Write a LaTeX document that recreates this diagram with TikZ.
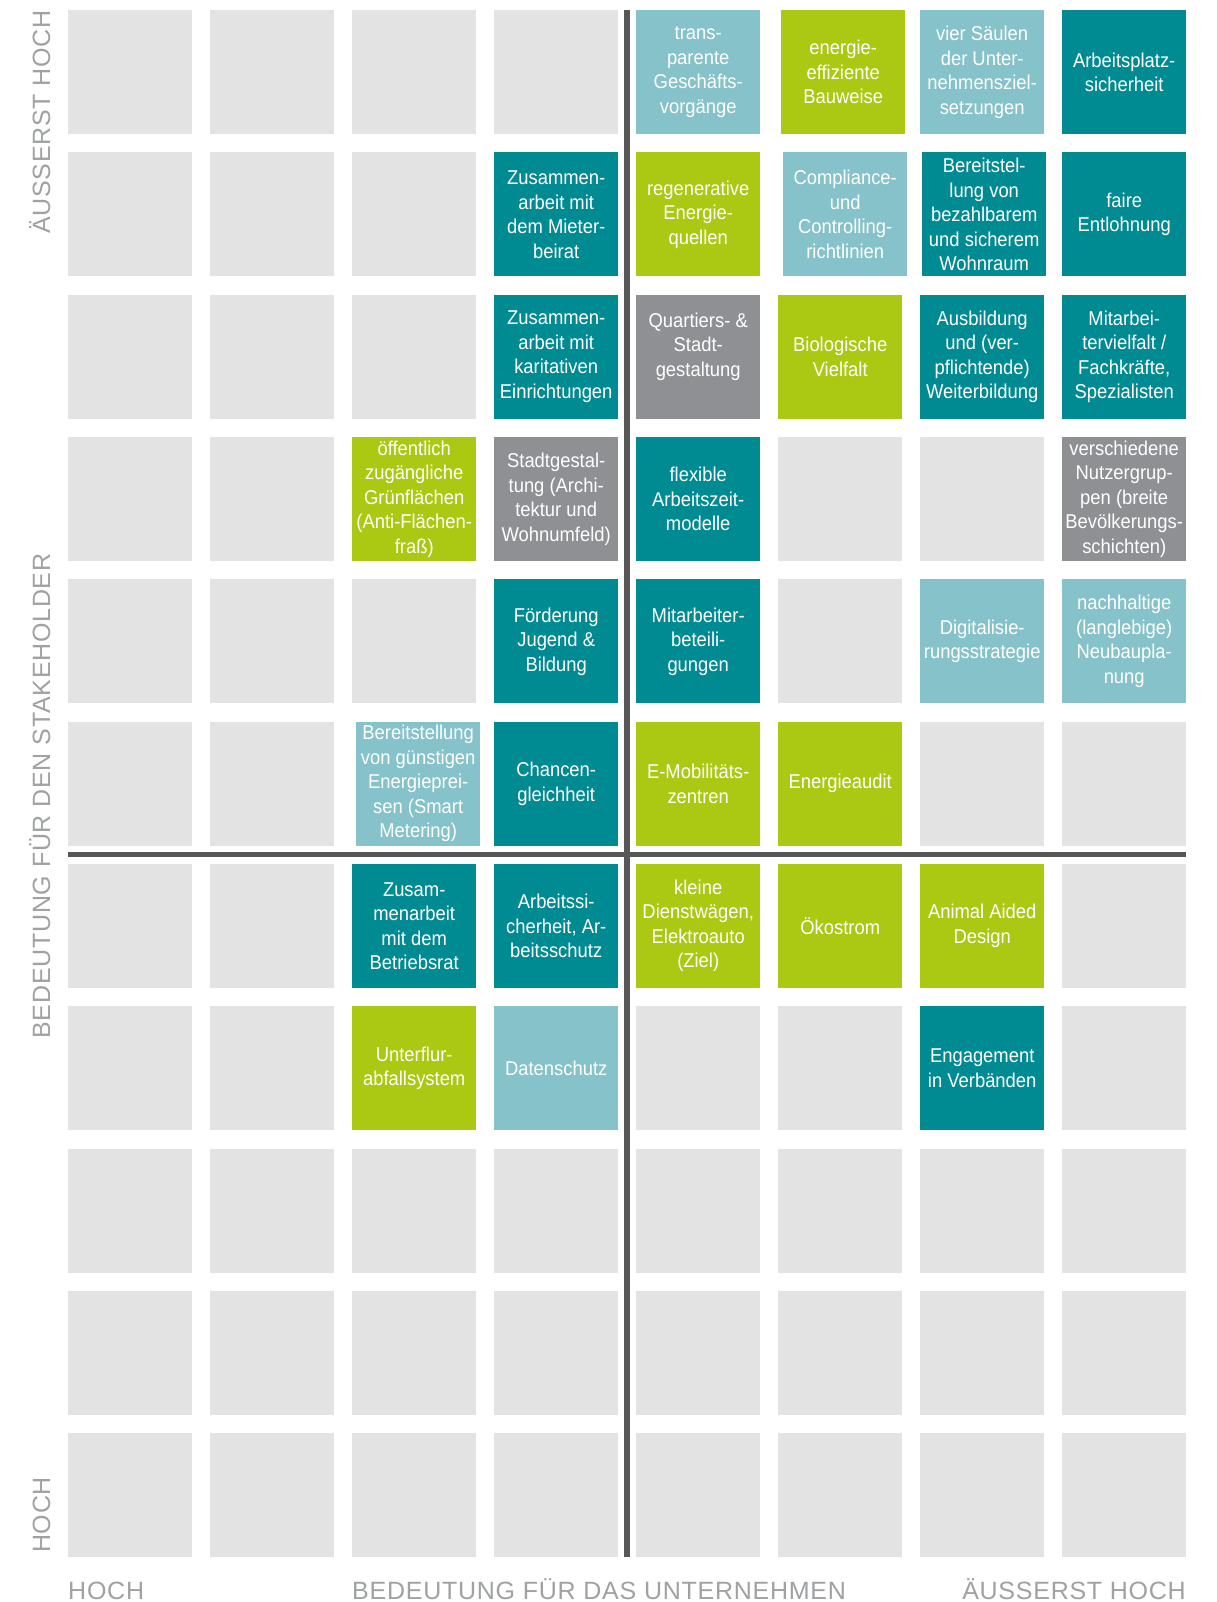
\documentclass[tikz,border=0pt]{standalone}
\usepackage{fontspec}
\newfontfamily\cellfont[FakeStretch=0.92]{Liberation Sans}
\newfontfamily\axisfont[LetterSpace=3]{Liberation Sans}
\definecolor{cellgray}{HTML}{E3E3E3}
\definecolor{teal}{HTML}{008A91}
\definecolor{lteal}{HTML}{86C2C9}
\definecolor{lime}{HTML}{ABC813}
\definecolor{midgray}{HTML}{8E9093}
\definecolor{axisline}{HTML}{575757}
\definecolor{axistext}{HTML}{9FA1A3}
% one square of the matrix: [x offset]{row}{column}{style}{text}
\newcommand\mxcell[5][0]{%
  \node[cellbox,#4] (m-#2-#3) at ({68+142*(#3-1)+#1},{10+142.3*(#2-1)}) {#5};}
\begin{document}
\begin{tikzpicture}[x=1pt,y=-1pt,
  celltext/.style={inner sep=0pt, align=center, text=white,
    font=\cellfont\fontsize{20}{24.5}\selectfont},
  cellbox/.style={celltext, rectangle, minimum width=124pt, minimum height=124pt,
    anchor=north west},
  blank/.style={fill=cellgray},
  dark/.style={fill=teal},
  light/.style={fill=lteal},
  green/.style={fill=lime},
  grey/.style={fill=midgray},
  axislabel/.style={inner sep=0pt, text=axistext, font=\axisfont\fontsize{25}{30}\selectfont},
  divider/.style={draw=axisline, line width=5.5pt}]
\fill[white] (0,0) rectangle (1216,1602);
\useasboundingbox (0,0) rectangle (1216,1602);

% row 1
\foreach \c in {1,...,4} {\mxcell{1}{\c}{blank}{}}
\mxcell{1}{5}{light}{trans-\\parente\\Geschäfts-\\vorgänge}
\mxcell[3]{1}{6}{green}{energie-\\effiziente\\Bauweise}
\mxcell{1}{7}{light}{vier Säulen\\der Unter-\\nehmensziel-\\setzungen}
\mxcell{1}{8}{dark}{Arbeitsplatz-\\sicherheit}
% row 2
\foreach \c in {1,...,3} {\mxcell{2}{\c}{blank}{}}
\mxcell{2}{4}{dark}{Zusammen-\\arbeit mit\\dem Mieter-\\beirat}
\mxcell{2}{5}{green}{regenerative\\Energie-\\quellen}
\mxcell[5]{2}{6}{light}{Compliance-\\und\\Controlling-\\richtlinien}
\mxcell[2]{2}{7}{dark}{Bereitstel-\\lung von\\bezahlbarem\\und sicherem\\Wohnraum}
\mxcell{2}{8}{dark}{faire\\Entlohnung}
% row 3
\foreach \c in {1,...,3} {\mxcell{3}{\c}{blank}{}}
\mxcell{3}{4}{dark}{Zusammen-\\arbeit mit\\karitativen\\Einrichtungen}
\mxcell{3}{5}{grey, label={[celltext, yshift=10pt]center:Quartiers- \&\\Stadt-\\gestaltung}}{}
\mxcell{3}{6}{green}{Biologische\\Vielfalt}
\mxcell{3}{7}{dark}{Ausbildung\\und (ver-\\pflichtende)\\Weiterbildung}
\mxcell{3}{8}{dark}{Mitarbei-\\tervielfalt /\\Fachkräfte,\\Spezialisten}
% row 4
\foreach \c in {1,2} {\mxcell{4}{\c}{blank}{}}
\mxcell{4}{3}{green}{öffentlich\\zugängliche\\Grünflächen\\(Anti-Flächen-\\fraß)}
\mxcell{4}{4}{grey}{Stadtgestal-\\tung (Archi-\\tektur und\\Wohnumfeld)}
\mxcell{4}{5}{dark}{flexible\\Arbeitszeit-\\modelle}
\mxcell{4}{6}{blank}{}
\mxcell{4}{7}{blank}{}
\mxcell{4}{8}{grey}{verschiedene\\Nutzergrup-\\pen (breite\\Bevölkerungs-\\schichten)}
% row 5
\foreach \c in {1,...,3} {\mxcell{5}{\c}{blank}{}}
\mxcell{5}{4}{dark}{Förderung\\Jugend \&\\Bildung}
\mxcell{5}{5}{dark}{Mitarbeiter-\\beteili-\\gungen}
\mxcell{5}{6}{blank}{}
\mxcell{5}{7}{light}{Digitalisie-\\rungsstrategie}
\mxcell{5}{8}{light}{nachhaltige\\(langlebige)\\Neubaupla-\\nung}
% row 6
\foreach \c in {1,2} {\mxcell{6}{\c}{blank}{}}
\mxcell[4]{6}{3}{light}{Bereitstellung\\von günstigen\\Energieprei-\\sen (Smart\\Metering)}
\mxcell{6}{4}{dark}{Chancen-\\gleichheit}
\mxcell{6}{5}{green}{E-Mobilitäts-\\zentren}
\mxcell{6}{6}{green}{Energieaudit}
\mxcell{6}{7}{blank}{}
\mxcell{6}{8}{blank}{}
% row 7
\foreach \c in {1,2} {\mxcell{7}{\c}{blank}{}}
\mxcell{7}{3}{dark}{Zusam-\\menarbeit\\mit dem\\Betriebsrat}
\mxcell{7}{4}{dark}{Arbeitssi-\\cherheit, Ar-\\beitsschutz}
\mxcell{7}{5}{green}{kleine\\Dienstwägen,\\Elektroauto\\(Ziel)}
\mxcell{7}{6}{green}{Ökostrom}
\mxcell{7}{7}{green}{Animal Aided\\Design}
\mxcell{7}{8}{blank}{}
% row 8
\foreach \c in {1,2} {\mxcell{8}{\c}{blank}{}}
\mxcell{8}{3}{green}{Unterflur-\\abfallsystem}
\mxcell{8}{4}{light}{Datenschutz}
\mxcell{8}{5}{blank}{}
\mxcell{8}{6}{blank}{}
\mxcell{8}{7}{dark}{Engagement\\in Verbänden}
\mxcell{8}{8}{blank}{}
% rows 9 to 11
\foreach \r in {9,10,11} {\foreach \c in {1,...,8} {\mxcell{\r}{\c}{blank}{}}}

% quadrant dividers
\coordinate (vtop) at (627,10);
\coordinate (vbot) at (627,1557);
\coordinate (hleft) at (68,854.5);
\coordinate (hright) at (1186,854.5);
\draw[divider] (hleft) -- (hright);
\draw[divider] (vtop) -- (vbot);

% axis captions
\node[axislabel, rotate=90, anchor=base east] (ytop) at (50,10) {ÄUSSERST HOCH};
\node[axislabel, rotate=90, anchor=base] (ymid) at (50,796) {BEDEUTUNG FÜR DEN STAKEHOLDER};
\node[axislabel, rotate=90, anchor=base west] (ylow) at (50,1553) {HOCH};
\node[axislabel, anchor=base west] (xlow) at (68,1599) {HOCH};
\node[axislabel, anchor=base west] (xmid) at (352,1599) {BEDEUTUNG FÜR DAS UNTERNEHMEN};
\node[axislabel, anchor=base east] (xtop) at (1186,1599) {ÄUSSERST HOCH};
\end{tikzpicture}
\end{document}
